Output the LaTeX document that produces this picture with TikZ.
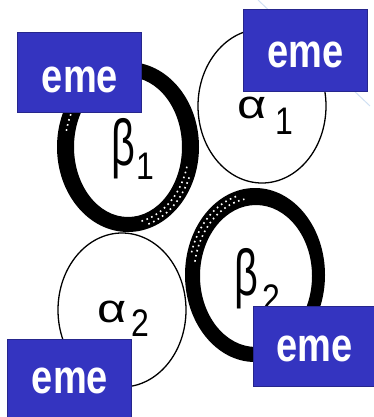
\documentclass[tikz,border=0pt]{standalone}
\usepackage{fontspec}
\setmainfont{Liberation Sans}
\usepackage{xcolor}
\usetikzlibrary{positioning}
\definecolor{emeblue}{RGB}{52,52,192}
\definecolor{emeedge}{RGB}{38,38,140}
\definecolor{faintline}{RGB}{208,224,243}
\tikzset{emebox/.style={draw=emeedge, line width=0.8pt, fill=emeblue, minimum width=124pt, minimum height=80pt, inner sep=0pt}}
\tikzset{emetext/.style={text=white, font=\bfseries\fontsize{38}{38}\selectfont, yscale=1.25, inner sep=0pt}}
\tikzset{betaglyph/.style={font=\fontsize{50}{50}\selectfont, xscale=0.83, yscale=1.3, inner sep=0pt}}
\tikzset{alphaglyph/.style={font=\fontsize{42}{42}\selectfont, xscale=1.2, yscale=0.95, inner sep=0pt}}
\tikzset{index/.style={font=\fontsize{32}{32}\selectfont, yscale=1.2, inner sep=0pt}}
\tikzset{thinring/.style={line width=1.3pt}}
\tikzset{ringdots/.style={white, line width=1.6pt, dash pattern=on 1.6pt off 3.6pt}}

\begin{document}
\begin{tikzpicture}[x=1pt, y=-1pt]
        \useasboundingbox (0,0) rectangle (374,417);
        % faint stroke behind
        \draw[faintline, line width=1pt] (258,0) -- (370,106);

        % Alpha rings
        \draw[thinring] (262,106) ellipse [x radius=64, y radius=77];
        \draw[thinring] (122,310) ellipse [x radius=64, y radius=77];

        % Beta rings
        \fill[even odd rule] (128,147) ellipse [x radius=71, y radius=85] (128,147) ellipse [x radius=54, y radius=70];
        \fill[even odd rule] (255,275) ellipse [x radius=70, y radius=87] (256,276) ellipse [x radius=56, y radius=71];

        % white specks in the thick rings
        \draw[ringdots] (128,147) ++(192:63 and 78) arc[start angle=192, end angle=218, x radius=63, y radius=78];
        \draw[ringdots] (128,147) ++(15:61 and 76) arc[start angle=15, end angle=78, x radius=61, y radius=76];
        \draw[ringdots] (128,147) ++(22:66 and 81) arc[start angle=22, end angle=72, x radius=66, y radius=81];
        \draw[ringdots] (255,275) ++(190:61 and 77) arc[start angle=190, end angle=260, x radius=61, y radius=77];
        \draw[ringdots] (255,275) ++(196:66 and 82) arc[start angle=196, end angle=254, x radius=66, y radius=82];

        % Labels
        \node[betaglyph] (beta1) at (123,149) {β};
        \node[index] (beta1idx) at (145,166) {1};
        \node[alphaglyph] (alpha1) at (252.5,108) {α};
        \node[index] (alpha1idx) at (284,121.5) {1};
        \node[alphaglyph] (alpha2) at (112.5,312) {α};
        \node[index] (alpha2idx) at (140,323.5) {2};
        \node[betaglyph] (beta2) at (246,279) {β};
        \node[index] (beta2idx) at (271.5,298) {2};

        % Boxes
        \node[emebox] (boxtl) at (79,72) {};
        \node[emebox, minimum height=82pt] (boxtr) at (305.5,50) {};
        \node[emebox] (boxbl) at (69.5,379) {};
        \node[emebox] (boxbr) at (315.5,346) {};
        \node[emetext] (emetl) at (80,80) {eme};
        \node[emetext] (emetr) at (305.5,55) {eme};
        \node[emetext] (emebl) at (70,381) {eme};
        \node[emetext] (emebr) at (314.5,349) {eme};
    \end{tikzpicture}
\end{document}
